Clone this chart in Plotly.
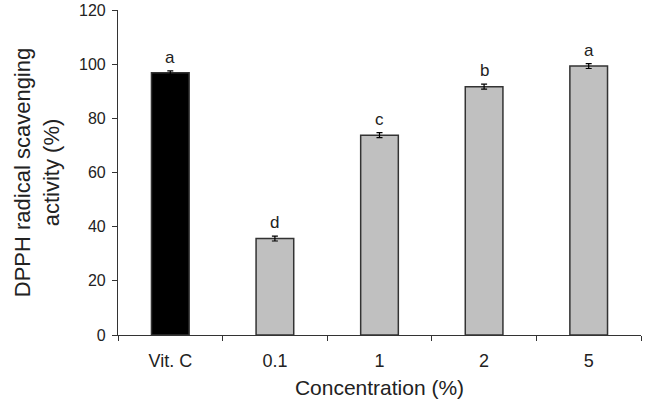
import plotly.graph_objects as go

categories = ["Vit. C", "0.1", "1", "2", "5"]
values = [96.8, 35.6, 73.8, 91.7, 99.3]
errors = [0.7, 0.9, 0.9, 0.9, 0.9]
letters = ["a", "d", "c", "b", "a"]
colors = ["#000000", "#c0c0c0", "#c0c0c0", "#c0c0c0", "#c0c0c0"]

FONT = "Liberation Sans, Arial"

fig = go.Figure()
fig.add_trace(go.Bar(
    x=categories, y=values, width=0.36,
    marker=dict(color=colors, line=dict(color="#333333", width=1.5)),
    error_y=dict(type="data", array=errors, visible=True, color="#000000", thickness=1.2, width=3),
    showlegend=False,
))
for i, (v, e, t) in enumerate(zip(values, errors, letters)):
    fig.add_annotation(x=i, y=v + e, text=t, showarrow=False, yanchor="bottom", yshift=2,
                       font=dict(family=FONT, size=17, color="#222222"))

fig.update_layout(
    width=651, height=399,
    margin=dict(l=118, r=10, t=10, b=64),
    paper_bgcolor="white", plot_bgcolor="white",
    font=dict(family=FONT, size=16, color="#222222"),
    xaxis=dict(
        type="category", tickson="boundaries", ticks="outside", ticklen=5, tickwidth=1.2,
        tickcolor="#333333", showline=True, linecolor="#333333", linewidth=1.2,
        showgrid=False, zeroline=False, automargin=False, range=[-0.5, 4.5],
        tickfont=dict(size=18), ticklabelstandoff=9,
        title=dict(text="Concentration (%)", font=dict(size=21), standoff=20),
    ),
    yaxis=dict(
        range=[0, 120], tickvals=[0, 20, 40, 60, 80, 100, 120], ticks="outside", ticklen=5,
        tickwidth=1.2, tickcolor="#333333", showline=True, linecolor="#333333", linewidth=1.2,
        showgrid=False, zeroline=False, automargin=False,
        tickfont=dict(size=16), ticklabelstandoff=3,
        title=dict(text="DPPH radical scavenging<br>activity (%)", font=dict(size=22), standoff=13),
    ),
)
fig.write_html("out.html")
